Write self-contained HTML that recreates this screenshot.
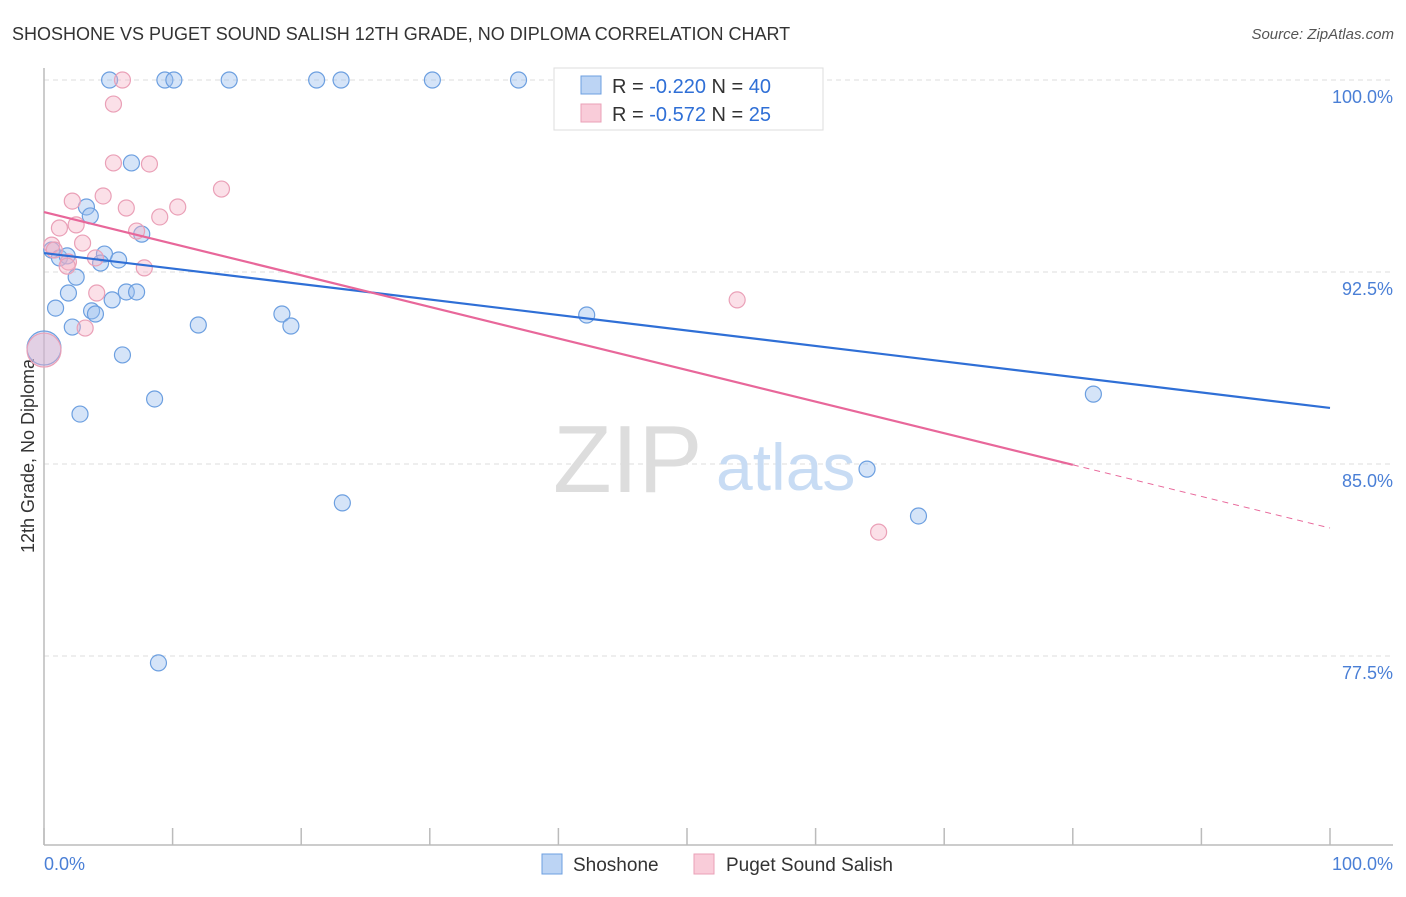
<!DOCTYPE html>
<html><head><meta charset="utf-8"><style>
body{margin:0;background:#fff;font-family:"Liberation Sans",sans-serif}
svg text{font-family:"Liberation Sans",sans-serif}
</style></head><body>
<svg width="1406" height="892" viewBox="0 0 1406 892">
<text x="12" y="40" font-size="18" fill="#333">SHOSHONE VS PUGET SOUND SALISH 12TH GRADE, NO DIPLOMA CORRELATION CHART</text>
<text x="1394" y="39" font-size="15" fill="#555" text-anchor="end" font-style="italic">Source: ZipAtlas.com</text>
<g id="grid"></g>
<g>
<text x="553" y="492" font-size="96" fill="#ddd" font-family="Liberation Serif,serif">ZIP</text>
<text x="716" y="490" font-size="66" fill="#c8dcf4">atlas</text>
</g>
<line x1="44" y1="68" x2="44" y2="845" stroke="#bbb" stroke-width="1.5"/>
<line x1="44" y1="845" x2="1393" y2="845" stroke="#bbb" stroke-width="1.5"/>
<g id="xticks"></g>
<g id="ylabels"></g>
<text x="44" y="870" font-size="18" fill="#4a7fd6">0.0%</text>
<text x="1393" y="870" font-size="18" fill="#4a7fd6" text-anchor="end">100.0%</text>
<text transform="translate(34,456) rotate(-90)" font-size="18" fill="#333" text-anchor="middle">12th Grade, No Diploma</text>
<g id="points"></g>
<g id="lines"></g>
<g>
<rect x="554" y="68" width="269" height="62" fill="#fff" stroke="#ddd"/>
<rect x="581" y="76" width="20" height="18" fill="#bcd4f4" stroke="#6c9fe0"/>
<rect x="581" y="104" width="20" height="18" fill="#f9ccd9" stroke="#eaa0b7"/>
<text x="612" y="93" font-size="20" fill="#333">R = <tspan fill="#2f6fd6">-0.220</tspan>   N = <tspan fill="#2f6fd6">40</tspan></text>
<text x="612" y="121" font-size="20" fill="#333">R = <tspan fill="#2f6fd6">-0.572</tspan>   N = <tspan fill="#2f6fd6"> 25</tspan></text>
</g>
<g>
<rect x="542" y="854" width="20" height="20" fill="#bcd4f4" stroke="#6c9fe0"/>
<text x="573" y="871" font-size="19" fill="#333">Shoshone</text>
<rect x="694" y="854" width="20" height="20" fill="#f9ccd9" stroke="#eaa0b7"/>
<text x="726" y="871" font-size="19" fill="#333">Puget Sound Salish</text>
</g>
</svg>
<script>
const yTicks=[100,92.5,85,77.5];
const yTickLabels=["100.0%","92.5%","85.0%","77.5%"];
const xTicks=[0,10,20,30,40,50,60,70,80,90,100];
const shoshoneX=[5.1,9.4,10.1,14.4,21.2,23.1,30.2,36.9,6.8,3.3,3.6,7.6,0.6,1.2,1.8,4.7,5.8,4.4,2.5,1.9,6.4,7.2,5.3,0.9,3.7,4.0,2.2,12.0,18.5,19.2,42.2,6.1,0,8.6,2.8,81.6,64.0,23.2,68.0,8.9];
const shoshoneY=[100,100,100,100,100,100,100,100,96.76,95.04,94.69,93.98,93.36,93.05,93.13,93.20,92.97,92.85,92.30,91.68,91.72,91.72,91.41,91.09,90.98,90.86,90.35,90.43,90.86,90.39,90.82,89.26,89.53,87.54,86.95,87.73,84.80,83.48,82.97,77.23];
const shoshoneBig=[32];
const pugetX=[6.1,5.4,5.4,8.2,13.8,4.6,2.2,6.4,10.4,9.0,2.5,1.2,7.2,3.0,0.6,4.0,1.9,1.8,7.8,4.1,3.2,53.9,64.9,0,0.8];
const pugetY=[100,99.06,96.76,96.72,95.74,95.47,95.27,95.00,95.04,94.65,94.34,94.22,94.10,93.63,93.55,93.05,92.89,92.73,92.66,91.68,90.31,91.41,82.34,89.45,93.36];
const pugetBig=[23];
const shoshoneTrend=[93.24,87.19];
const pugetTrend=[94.84,82.5];
const pugetSolidEnd=80;
const NS="http://www.w3.org/2000/svg";
const sx=v=>44+v*12.86, sy=v=>80+(100-v)*25.6;
function mk(t,a,p){const e=document.createElementNS(NS,t);for(const k in a)e.setAttribute(k,a[k]);document.getElementById(p).appendChild(e);return e;}
yTicks.forEach((v,i)=>{
 const l=mk('line',{x1:44,x2:1393,y1:sy(v),y2:sy(v),stroke:'#ddd','stroke-dasharray':'5,4'},'grid');
 
 
 const t=mk('text',{x:1393,y:sy(v)+23,'font-size':18,fill:'#4a7fd6','text-anchor':'end'},'ylabels');
 t.textContent=yTickLabels[i];
 
 
});
xTicks.forEach(v=>{
 const l=mk('line',{x1:sx(v),x2:sx(v),y1:828,y2:845,stroke:'#bbb','stroke-width':1.5},'xticks');
 
 
});
function pts(X,Y,big,fill,stroke,name){
 X.forEach((x,i)=>{
  const c=mk('circle',{cx:sx(x),cy:sy(Y[i]),r:big.includes(i)?17:8,fill:fill,stroke:stroke,'stroke-width':1.2},'points');
  
  
 });
}
pts(shoshoneX,shoshoneY,shoshoneBig,'rgba(150,188,238,0.4)','#6c9fe0','shoshone-point');
pts(pugetX,pugetY,pugetBig,'rgba(246,178,198,0.4)','#eaa0b7','puget-point');
const bl=mk('line',{x1:sx(0),y1:sy(shoshoneTrend[0]),x2:sx(100),y2:sy(shoshoneTrend[1]),stroke:'#2f6fd6','stroke-width':2.2},'lines');


const pm=pugetTrend[0]+(pugetTrend[1]-pugetTrend[0])*pugetSolidEnd/100;
const pl=mk('line',{x1:sx(0),y1:sy(pugetTrend[0]),x2:sx(pugetSolidEnd),y2:sy(pm),stroke:'#e8679a','stroke-width':2.2},'lines');


const pd=mk('line',{x1:sx(pugetSolidEnd),y1:sy(pm),x2:sx(100),y2:sy(pugetTrend[1]),stroke:'#e8679a','stroke-width':1,'stroke-dasharray':'6,5'},'lines');


</script>
</body></html>
